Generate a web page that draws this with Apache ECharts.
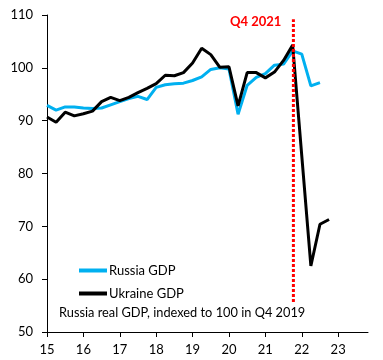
<!DOCTYPE html>
<html><head><meta charset="utf-8">
<script src="https://cdn.jsdelivr.net/npm/echarts@6/dist/echarts.min.js"></script>
<style>html,body{margin:0;padding:0;background:#fff}#c{width:383px;height:360px}</style>
</head><body><div id="c"></div>
<script>
// Quarterly index, Q4 2019 = 100. x in years since 2000 (15 = Q1 2015).
const startYear = 15;
const russiaGDP = [92.9,92.0,92.6,92.6,92.4,92.3,92.4,93.0,93.6,94.2,94.6,94.0,96.3,96.8,97.0,97.1,97.6,98.3,99.7,100.0,99.8,91.2,96.7,98.2,98.9,100.5,100.7,103.2,102.6,96.6,97.2];
const ukraineGDP = [90.7,89.7,91.6,90.9,91.3,91.8,93.6,94.4,93.8,94.4,95.3,96.1,97.0,98.6,98.5,99.1,100.9,103.7,102.5,100.1,100.2,92.8,99.1,99.1,98.1,99.2,101.4,104.3,83.4,62.5,70.4,71.3];
const xTicks = [15,16,17,18,19,20,21,22,23];
const yTicks = [50,60,70,80,90,100,110];
const markerX = 21.77;          // Q4 2021
const markerRange = [55.7, 109.2];
const markerLabel = 'Q4 2021';
const seriesNames = ['Russia GDP','Ukraine GDP'];
const note = 'Russia real GDP, indexed to 100 in Q4 2019';

const toPairs = arr => arr.map((v,i)=>[startYear + i*0.25, v]);
const font = 'Lato';
const chart = echarts.init(document.getElementById('c'), null, {renderer:'canvas'});
chart.setOption({
  animation:false,
  backgroundColor:'#fff',
  grid:{left:47,right:15,top:15,bottom:28,containLabel:false},
  xAxis:{type:'value',min:15,max:23.82,
    axisLine:{show:true,lineStyle:{color:'#000',width:1}},
    axisTick:{show:true,inside:false,length:5,lineStyle:{color:'#000'},customValues:xTicks},
    axisLabel:{show:true,color:'#000',fontFamily:font,fontSize:13,margin:11,customValues:xTicks},
    splitLine:{show:false}},
  yAxis:{type:'value',min:50,max:110,interval:10,
    axisLine:{show:true,lineStyle:{color:'#000',width:1}},
    axisTick:{show:true,length:5,lineStyle:{color:'#000'}},
    axisLabel:{color:'#000',fontFamily:font,fontSize:13,margin:14},
    splitLine:{show:false}},
  legend:{orient:'vertical',left:74,top:259,itemWidth:28,itemHeight:4,itemGap:10,icon:'rect',
    textStyle:{color:'#000',fontFamily:font,fontSize:13,padding:[0,0,0,-3]},
    data:seriesNames},
  title:{text:note,left:54,top:301,textStyle:{color:'#000',fontFamily:font,fontSize:12.8,fontWeight:'normal'}},
  series:[
    {name:seriesNames[0],type:'line',data:toPairs(russiaGDP),showSymbol:false,symbol:'none',
      lineStyle:{color:'#00B0F0',width:3},itemStyle:{color:'#00B0F0'},z:3},
    {name:seriesNames[1],type:'line',data:toPairs(ukraineGDP),showSymbol:false,symbol:'none',
      lineStyle:{color:'#000',width:3},itemStyle:{color:'#000'},z:4},
    {name:'marker',type:'line',showSymbol:false,symbol:'none',
      data:[[markerX,markerRange[0]],[markerX,markerRange[1]]],
      lineStyle:{color:'#FF0000',width:3,type:[3,2]},z:5}
  ]
});
const p = chart.convertToPixel({gridIndex:0},[markerX,markerRange[1]]);
chart.setOption({graphic:[{type:'text',x:p[0]-12,y:p[1]+3,z:10,
  style:{text:markerLabel,fill:'#FF0000',font:'bold 13px '+font,textAlign:'right',textVerticalAlign:'middle'}}]});
</script></body></html>
